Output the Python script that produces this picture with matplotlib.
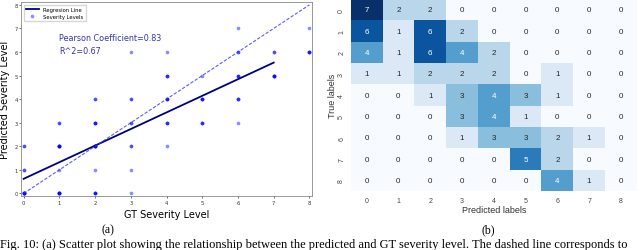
import numpy as np
import matplotlib
matplotlib.use('Agg')
import matplotlib.pyplot as plt
import seaborn as sns

# confusion matrix: rows = true label, cols = predicted label
labels = [0, 1, 2, 3, 4, 5, 6, 7, 8]
conf = np.array([
    [7, 2, 2, 0, 0, 0, 0, 0, 0],
    [6, 1, 6, 2, 0, 0, 0, 0, 0],
    [4, 1, 6, 4, 2, 0, 0, 0, 0],
    [1, 1, 2, 2, 2, 0, 1, 0, 0],
    [0, 0, 1, 3, 4, 3, 1, 0, 0],
    [0, 0, 0, 3, 4, 1, 0, 0, 0],
    [0, 0, 0, 1, 3, 3, 2, 1, 0],
    [0, 0, 0, 0, 0, 5, 2, 0, 0],
    [0, 0, 0, 0, 0, 0, 4, 1, 0],
])

# regression line end points
reg_x = [0, 7]
reg_y = [0.62, 5.55]
ideal = [0, 8]

pearson_txt = 'Pearson Coefficient=0.83'
r2_txt = 'R^2=0.67'
caption = ('Fig. 10: (a) Scatter plot showing the relationship between the predicted '
           'and GT severity level. The dashed line corresponds to')

# one point per sample, repeated by count
gt_pts, pred_pts = [], []
for t in labels:
    for p in labels:
        gt_pts += [t] * conf[t, p]
        pred_pts += [p] * conf[t, p]

fig = plt.figure(figsize=(6.4, 2.51), dpi=100)

# ---- (a) scatter ----
ax = fig.add_axes([0.033, 0.215, 0.455, 0.773])
ax.plot(reg_x, reg_y, color='#000080', lw=1.3, label='Regresion Line')
ax.scatter(gt_pts, pred_pts, s=7, color='#0000ff', alpha=0.45, lw=0, label='Severity Levels')
ax.plot(ideal, ideal, color='#3333ff', lw=0.8, ls=(0, (3, 1.5)), alpha=0.8)
ax.text(1.0, 6.63, pearson_txt, color='#3333aa', fontsize=5.8, va='center')
ax.text(1.0, 6.08, r2_txt, color='#3333aa', fontsize=5.8, va='center')
ax.set_xlim(-0.07, 8.08)
ax.set_ylim(-0.11, 8.12)
ax.set_xticks(range(9))
ax.set_yticks(range(9))
ax.tick_params(labelsize=3.8, length=1.5, width=0.5, pad=1, colors='#333333')
for s in ax.spines.values():
    s.set_color('#888888')
    s.set_linewidth(0.6)
ax.set_xlabel('GT Severity Level', fontsize=7, labelpad=3)
ax.set_ylabel('Predicted Severity Level', fontsize=7, labelpad=3)
ax.legend(loc='upper left', fontsize=3.8, frameon=True, edgecolor='#cccccc',
          handlelength=2.5, borderpad=0.4, labelspacing=0.4, fancybox=False)

# ---- (b) confusion matrix ----
ax2 = fig.add_axes([0.548, 0.235, 0.447, 0.765])
sns.heatmap(conf, annot=True, fmt='d', cmap='Blues', vmin=0, vmax=7, cbar=False,
            annot_kws={'fontsize': 5.8, 'family': 'Liberation Sans'}, ax=ax2)
ax2.set_xticklabels(labels, fontsize=5, color='#444444', family='Liberation Sans')
ax2.set_yticklabels(labels, fontsize=5, color='#444444', family='Liberation Sans', rotation=90)
ax2.tick_params(length=0, pad=4)
ax2.set_xlabel('Predicted labels', fontsize=6.5, color='#333333', family='Liberation Sans', labelpad=1)
ax2.set_ylabel('True labels', fontsize=6.5, color='#333333', family='Liberation Sans', labelpad=1)

# ---- captions ----
fig.text(108 / 640, 1 - 230 / 251, '(a)', family='Liberation Serif', fontsize=8.5, ha='center', va='center')
fig.text(488 / 640, 1 - 230 / 251, '(b)', family='Liberation Serif', fontsize=8.5, ha='center', va='center')
fig.text(0.0, 1 - 239.5 / 251, caption, family='Liberation Serif', fontsize=9.0, ha='left', va='top')

plt.savefig('out.png', dpi=100)
